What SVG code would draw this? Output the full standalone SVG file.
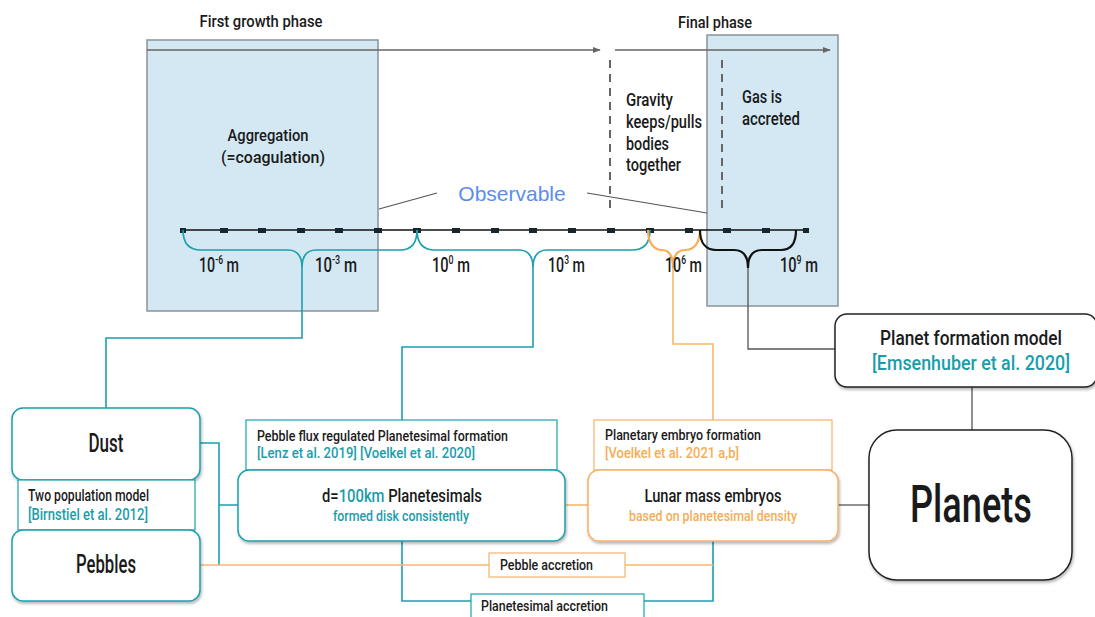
<svg xmlns="http://www.w3.org/2000/svg" width="1095" height="617" viewBox="0 0 1095 617">
<defs>
<style>
text{font-family:Roboto,"Liberation Sans",sans-serif;font-weight:500;fill:#1a1a1a;}
.obs{font-family:"Liberation Sans",Arial,sans-serif;font-weight:normal;fill:#5b8def;font-size:21px;}
.teal{fill:#1a9dab;}
.org{fill:#f6ad55;}
.phase{fill:#d3e8f3;stroke:#8a9399;stroke-width:1.5;}
.tl{stroke:#1aa0ae;stroke-width:1.6;fill:none;}
.ol{stroke:#f8b86b;stroke-width:1.6;fill:none;}
.gl{stroke:#555;stroke-width:1.3;fill:none;}
.node-t{fill:#fff;stroke:#1aa0ae;stroke-width:1.5;}
.node-o{fill:#fff;stroke:#f6b26b;stroke-width:1.5;}
.node-k{fill:#fff;stroke:#222;stroke-width:1.5;}
.tick{fill:#17252d;}
</style>
<marker id="arr" viewBox="0 0 10 10" refX="9" refY="5" markerWidth="8" markerHeight="8" orient="auto" markerUnits="userSpaceOnUse">
<path d="M0,1 L10,5 L0,9 z" fill="#666"/>
</marker>
<filter id="sh" x="-10%" y="-10%" width="120%" height="130%">
<feDropShadow dx="1" dy="2" stdDeviation="1.5" flood-color="#000" flood-opacity="0.3"/>
</filter>
</defs>
<rect width="1095" height="617" fill="#fff"/>

<g id="phases">
<rect class="phase" x="147" y="40" width="231" height="271"/>
<rect class="phase" x="707" y="35" width="131" height="271"/>
<text x="261" y="27" text-anchor="middle" font-size="17" textLength="123" lengthAdjust="spacingAndGlyphs">First growth phase</text>
<text x="715" y="28" text-anchor="middle" font-size="17" textLength="74" lengthAdjust="spacingAndGlyphs">Final phase</text>
<text x="268" y="141" text-anchor="middle" font-size="17" textLength="81" lengthAdjust="spacingAndGlyphs">Aggregation</text>
<text x="273" y="163" text-anchor="middle" font-size="17" textLength="104" lengthAdjust="spacingAndGlyphs">(=coagulation)</text>
<text x="626" y="106" font-size="18" textLength="47" lengthAdjust="spacingAndGlyphs">Gravity</text>
<text x="626" y="128" font-size="18" textLength="76" lengthAdjust="spacingAndGlyphs">keeps/pulls</text>
<text x="626" y="150" font-size="18" textLength="43" lengthAdjust="spacingAndGlyphs">bodies</text>
<text x="626" y="171" font-size="18" textLength="55" lengthAdjust="spacingAndGlyphs">together</text>
<text x="742" y="103" font-size="18" textLength="40" lengthAdjust="spacingAndGlyphs">Gas is</text>
<text x="742" y="125" font-size="18" textLength="58" lengthAdjust="spacingAndGlyphs">accreted</text>
</g>

<g id="timeline-arrows">
<path d="M147,50 H600" stroke="#666" stroke-width="1.3" marker-end="url(#arr)"/>
<path d="M615,50 H830" stroke="#666" stroke-width="1.3" marker-end="url(#arr)"/>
<path d="M610,60 V213 M722,60 V213" stroke="#666" stroke-width="2" stroke-dasharray="8 6"/>
<path d="M379,209 L437,193 M587,193 L707,213" stroke="#555" stroke-width="1.2"/>
<text class="obs" x="512" y="201" text-anchor="middle">Observable</text>
</g>

<g id="connectors">
<path class="tl" d="M302,268 V338 H106 V408"/>
<path class="tl" d="M533,268 V347 H402 V420"/>
<path class="tl" d="M200,443 H219 V565 M219,505 H238"/>
<path class="tl" d="M402,541 V601 H471"/>
<path class="tl" d="M644,601 H713 V541"/>
<path class="ol" d="M673,268 V344 H713 V420"/>
<path class="ol" d="M565,505 H588"/>
<path class="ol" d="M200,565 H489 M625,565 H713"/>
<path class="gl" d="M748,268 V349 H835"/>
<path class="gl" d="M972,387 V430"/>
<path class="gl" d="M838,505 H869"/>
</g>

<g id="scale">
<path d="M183,230 H807" stroke="#111" stroke-width="1.5"/>
<g class="tick">
<rect x="180" y="228" width="6" height="5"/>
<rect x="220" y="228" width="8" height="5"/>
<rect x="258" y="228" width="8" height="5"/>
<rect x="297" y="228" width="8" height="5"/>
<rect x="335" y="228" width="8" height="5"/>
<rect x="374" y="228" width="8" height="5"/>
<rect x="413" y="228" width="8" height="5"/>
<rect x="452" y="228" width="8" height="5"/>
<rect x="491" y="228" width="8" height="5"/>
<rect x="529" y="228" width="8" height="5"/>
<rect x="568" y="228" width="8" height="5"/>
<rect x="607" y="228" width="8" height="5"/>
<rect x="646" y="228" width="8" height="5"/>
<rect x="685" y="228" width="8" height="5"/>
<rect x="723" y="228" width="8" height="5"/>
<rect x="762" y="228" width="8" height="5"/>
<rect x="803" y="228" width="6" height="5"/>
</g>
<path class="tl" stroke-width="2.2" d="M183,230 C183,243 189,250 201,250 L288,250 C297,250 302,256 302,268 C302,256 307,250 316,250 L400,250 C411,250 417,243 417,230"/>
<path class="tl" stroke-width="2.2" d="M417,230 C417,243 423,250 435,250 L519,250 C528,250 533,256 533,268 C533,256 538,250 547,250 L632,250 C644,250 650,243 650,230"/>
<path stroke="#f6ad55" stroke-width="2.2" fill="none" d="M648,230 C648,243 654,250 662,250 C669,250 673,256 673,268 C673,256 677,250 685,250 C694,250 700,243 700,230"/>
<path stroke="#111" stroke-width="2.2" fill="none" d="M700,230 C700,243 706,250 716,250 L734,250 C743,250 748,256 748,268 C748,256 753,250 762,250 L781,250 C791,250 796,243 796,230"/>
<g font-size="20" font-weight="normal">
<text x="199" y="272" textLength="40" lengthAdjust="spacingAndGlyphs">10<tspan font-size="12" dy="-8">-6</tspan><tspan dy="8"> m</tspan></text>
<text x="315" y="272" textLength="42" lengthAdjust="spacingAndGlyphs">10<tspan font-size="12" dy="-8">-3</tspan><tspan dy="8"> m</tspan></text>
<text x="432" y="272" textLength="38" lengthAdjust="spacingAndGlyphs">10<tspan font-size="12" dy="-8">0</tspan><tspan dy="8"> m</tspan></text>
<text x="548" y="272" textLength="37" lengthAdjust="spacingAndGlyphs">10<tspan font-size="12" dy="-8">3</tspan><tspan dy="8"> m</tspan></text>
<text x="665" y="272" textLength="37" lengthAdjust="spacingAndGlyphs">10<tspan font-size="12" dy="-8">6</tspan><tspan dy="8"> m</tspan></text>
<text x="780" y="272" textLength="38" lengthAdjust="spacingAndGlyphs">10<tspan font-size="12" dy="-8">9</tspan><tspan dy="8"> m</tspan></text>
</g>
</g>

<g id="dust">
<rect class="node-t" x="12" y="408" width="188" height="72" rx="11" filter="url(#sh)"/>
<text x="106" y="452" text-anchor="middle" font-size="25" textLength="35" lengthAdjust="spacingAndGlyphs">Dust</text>
</g>
<g id="two-population">
<rect x="18" y="480" width="177" height="50" fill="#fff" stroke="#1aa0ae" stroke-width="1.2"/>
<text x="28" y="501" font-size="16" textLength="121" lengthAdjust="spacingAndGlyphs">Two population model</text>
<text class="teal" x="28" y="520" font-size="16" textLength="120" lengthAdjust="spacingAndGlyphs">[Birnstiel et al. 2012]</text>
</g>
<g id="pebbles">
<rect class="node-t" x="12" y="530" width="188" height="71" rx="11" filter="url(#sh)"/>
<text x="106" y="573" text-anchor="middle" font-size="25" textLength="60" lengthAdjust="spacingAndGlyphs">Pebbles</text>
</g>

<g id="pebble-flux">
<rect x="246" y="420" width="311" height="50" fill="#fff" stroke="#1aa0ae" stroke-width="1.2"/>
<text x="257" y="441" font-size="15" textLength="251" lengthAdjust="spacingAndGlyphs">Pebble flux regulated Planetesimal formation</text>
<text class="teal" x="257" y="458" font-size="15" textLength="218" lengthAdjust="spacingAndGlyphs">[Lenz et al. 2019] [Voelkel et al. 2020]</text>
</g>
<g id="planetesimals">
<rect class="node-t" x="238" y="470" width="327" height="71" rx="11" filter="url(#sh)"/>
<text x="322" y="502" font-size="19" textLength="160" lengthAdjust="spacingAndGlyphs">d=<tspan class="teal">100km</tspan> Planetesimals</text>
<text class="teal" x="401" y="521" text-anchor="middle" font-size="15" textLength="136" lengthAdjust="spacingAndGlyphs">formed disk consistently</text>
</g>

<g id="embryo-formation">
<rect x="594" y="420" width="238" height="50" fill="#fff" stroke="#f6b26b" stroke-width="1.2"/>
<text x="605" y="440" font-size="15" textLength="156" lengthAdjust="spacingAndGlyphs">Planetary embryo formation</text>
<text class="org" x="605" y="458" font-size="15" textLength="134" lengthAdjust="spacingAndGlyphs">[Voelkel et al. 2021 a,b]</text>
</g>
<g id="lunar-embryos">
<rect class="node-o" x="588" y="470" width="250" height="71" rx="11" filter="url(#sh)"/>
<text x="713" y="502" text-anchor="middle" font-size="19" textLength="137" lengthAdjust="spacingAndGlyphs">Lunar mass embryos</text>
<text class="org" x="713" y="521" text-anchor="middle" font-size="15" textLength="168" lengthAdjust="spacingAndGlyphs">based on planetesimal density</text>
</g>

<g id="pebble-accretion">
<rect x="489" y="553" width="136" height="24" fill="#fff" stroke="#f6b26b" stroke-width="1.2"/>
<text x="500" y="570" font-size="15" textLength="93" lengthAdjust="spacingAndGlyphs">Pebble accretion</text>
</g>
<g id="planetesimal-accretion">
<rect x="471" y="594" width="173" height="30" fill="#fff" stroke="#1aa0ae" stroke-width="1.2"/>
<text x="481" y="611" font-size="15" textLength="127" lengthAdjust="spacingAndGlyphs">Planetesimal accretion</text>
</g>

<g id="planet-formation-model">
<rect class="node-k" x="835" y="314" width="262" height="73" rx="12" filter="url(#sh)"/>
<text x="971" y="345" text-anchor="middle" font-size="21" textLength="182" lengthAdjust="spacingAndGlyphs">Planet formation model</text>
<text class="teal" x="971" y="370" text-anchor="middle" font-size="21" textLength="198" lengthAdjust="spacingAndGlyphs">[Emsenhuber et al. 2020]</text>
</g>
<g id="planets">
<rect class="node-k" x="869" y="430" width="203" height="150" rx="28" filter="url(#sh)"/>
<text x="971" y="522" text-anchor="middle" font-size="52" textLength="122" lengthAdjust="spacingAndGlyphs">Planets</text>
</g>
</svg>
